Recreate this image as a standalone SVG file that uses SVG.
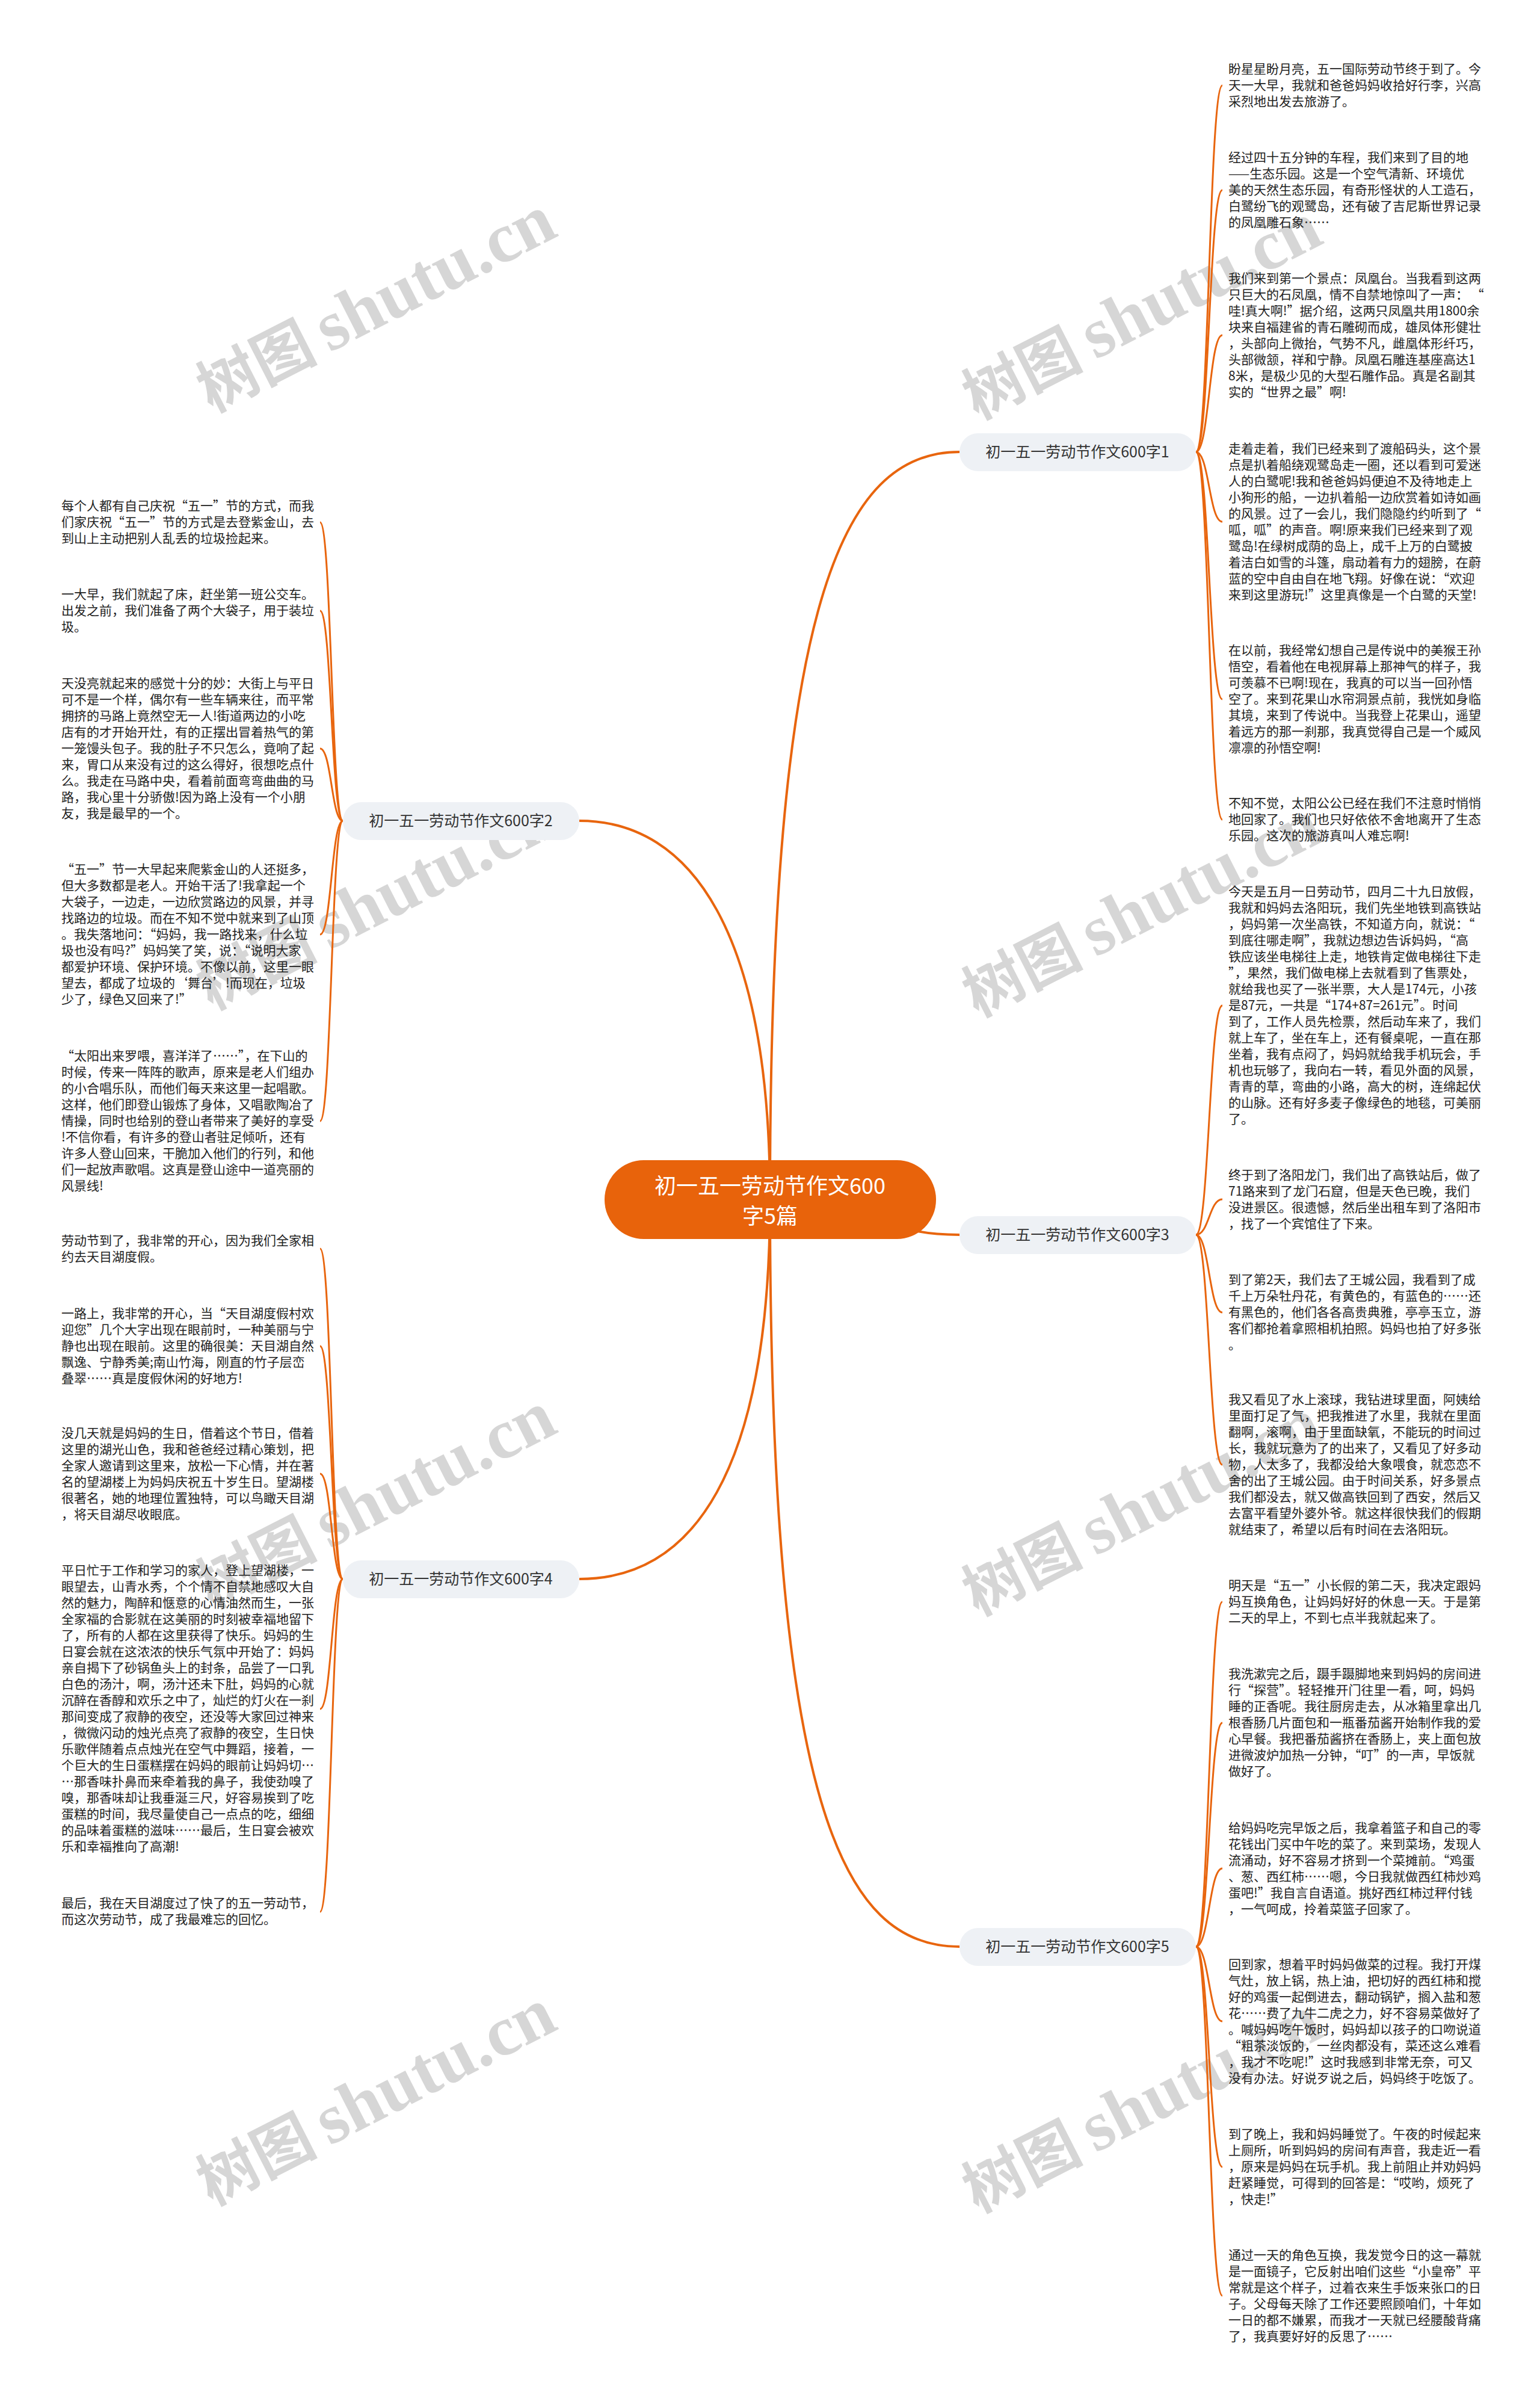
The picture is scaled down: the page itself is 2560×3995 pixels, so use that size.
<svg xmlns="http://www.w3.org/2000/svg" width="2560" height="3995" viewBox="0 0 2560 3995">
<style>
.leaf{font-family:"Noto Sans CJK SC","Liberation Sans",sans-serif;font-size:21px;fill:#222}
.conn{fill:none;stroke:#e8650e;stroke-width:3}
.main{fill:none;stroke:#e8650e;stroke-width:4}
.bbox{fill:#eef1f5}
.blabel{font-family:"Noto Sans CJK SC","Liberation Sans",sans-serif;font-size:25px;fill:#333;text-anchor:middle}
.ctext{font-family:"Noto Sans CJK SC","Liberation Sans",sans-serif;font-size:36px;fill:#fff;text-anchor:middle}
.wm1{font-family:"Noto Sans CJK SC",sans-serif;font-size:100px;font-weight:bold;fill:#d6d6d6;text-anchor:end}
.wm2{font-family:"Liberation Serif",serif;font-size:118px;font-weight:bold;fill:#d6d6d6}
</style>
<rect width="2560" height="3995" fill="#fff"/>
<g id="watermarks">
<g transform="translate(548,586) rotate(-27)"><text class="wm1" x="-20" y="0">树图</text><text class="wm2" x="0" y="0">shutu.cn</text></g>
<g transform="translate(1821,598) rotate(-27)"><text class="wm1" x="-20" y="0">树图</text><text class="wm2" x="0" y="0">shutu.cn</text></g>
<g transform="translate(548,1579) rotate(-27)"><text class="wm1" x="-20" y="0">树图</text><text class="wm2" x="0" y="0">shutu.cn</text></g>
<g transform="translate(1821,1591) rotate(-27)"><text class="wm1" x="-20" y="0">树图</text><text class="wm2" x="0" y="0">shutu.cn</text></g>
<g transform="translate(548,2574) rotate(-27)"><text class="wm1" x="-20" y="0">树图</text><text class="wm2" x="0" y="0">shutu.cn</text></g>
<g transform="translate(1821,2586) rotate(-27)"><text class="wm1" x="-20" y="0">树图</text><text class="wm2" x="0" y="0">shutu.cn</text></g>
<g transform="translate(548,3566) rotate(-27)"><text class="wm1" x="-20" y="0">树图</text><text class="wm2" x="0" y="0">shutu.cn</text></g>
<g transform="translate(1821,3578) rotate(-27)"><text class="wm1" x="-20" y="0">树图</text><text class="wm2" x="0" y="0">shutu.cn</text></g>
</g>
<g id="connectors">
<path class="main" d="M1280,1993 C1280,1000 1400,751 1595,751"/>
<path class="main" d="M1280,1993 C1280,1550 1150,1364 963,1364"/>
<path class="main" d="M1280,1993 C1450,1993 1450,2052 1595,2052"/>
<path class="main" d="M1280,1993 C1280,2450 1150,2624 963,2624"/>
<path class="main" d="M1280,1993 C1280,3000 1400,3235 1595,3235"/>
<path class="conn" d="M1988,751 C2010,751 2010,142 2032,142"/>
<path class="conn" d="M1988,751 C2010,751 2010,316 2032,316"/>
<path class="conn" d="M1988,751 C2010,751 2010,557 2032,557"/>
<path class="conn" d="M1988,751 C2010,751 2010,867 2032,867"/>
<path class="conn" d="M1988,751 C2010,751 2010,1162 2032,1162"/>
<path class="conn" d="M1988,751 C2010,751 2010,1362 2032,1362"/>
<path class="conn" d="M1988,2052 C2010,2052 2010,1671 2032,1671"/>
<path class="conn" d="M1988,2052 C2010,2052 2010,1993 2032,1993"/>
<path class="conn" d="M1988,2052 C2010,2052 2010,2181 2032,2181"/>
<path class="conn" d="M1988,2052 C2010,2052 2010,2434 2032,2434"/>
<path class="conn" d="M1988,3235 C2010,3235 2010,2662 2032,2662"/>
<path class="conn" d="M1988,3235 C2010,3235 2010,2863 2032,2863"/>
<path class="conn" d="M1988,3235 C2010,3235 2010,3105 2032,3105"/>
<path class="conn" d="M1988,3235 C2010,3235 2010,3359 2032,3359"/>
<path class="conn" d="M1988,3235 C2010,3235 2010,3601 2032,3601"/>
<path class="conn" d="M1988,3235 C2010,3235 2010,3815 2032,3815"/>
<path class="conn" d="M570,1364 C551,1364 551,868 532,868"/>
<path class="conn" d="M570,1364 C551,1364 551,1015 532,1015"/>
<path class="conn" d="M570,1364 C551,1364 551,1244 532,1244"/>
<path class="conn" d="M570,1364 C551,1364 551,1553 532,1553"/>
<path class="conn" d="M570,1364 C551,1364 551,1863 532,1863"/>
<path class="conn" d="M570,2624 C551,2624 551,2075 532,2075"/>
<path class="conn" d="M570,2624 C551,2624 551,2237 532,2237"/>
<path class="conn" d="M570,2624 C551,2624 551,2449 532,2449"/>
<path class="conn" d="M570,2624 C551,2624 551,2840 532,2840"/>
<path class="conn" d="M570,2624 C551,2624 551,3177 532,3177"/>
</g>
<g id="center">
<rect x="1005" y="1928" width="551" height="131" rx="65" fill="#e8630b"/>
<text class="ctext" x="1280" y="1984">初一五一劳动节作文600</text>
<text class="ctext" x="1280" y="2034">字5篇</text>
</g>
<g id="b1"><rect class="bbox" x="1595" y="720" width="393" height="63" rx="31"/><text class="blabel" x="1791" y="760">初一五一劳动节作文600字1</text></g>
<g id="b2"><rect class="bbox" x="570" y="1333" width="393" height="63" rx="31"/><text class="blabel" x="766" y="1373">初一五一劳动节作文600字2</text></g>
<g id="b3"><rect class="bbox" x="1595" y="2021" width="393" height="63" rx="31"/><text class="blabel" x="1791" y="2061">初一五一劳动节作文600字3</text></g>
<g id="b4"><rect class="bbox" x="570" y="2593" width="393" height="63" rx="31"/><text class="blabel" x="766" y="2633">初一五一劳动节作文600字4</text></g>
<g id="b5"><rect class="bbox" x="1595" y="3204" width="393" height="63" rx="31"/><text class="blabel" x="1791" y="3244">初一五一劳动节作文600字5</text></g>
<g id="p1"><text class="leaf" x="2042" y="122"><tspan x="2042">盼星星盼月亮，五一国际劳动节终于到了。今</tspan><tspan x="2042" dy="27">天一大早，我就和爸爸妈妈收拾好行李，兴高</tspan><tspan x="2042" dy="27">采烈地出发去旅游了。</tspan></text></g>
<g id="p2"><text class="leaf" x="2042" y="269"><tspan x="2042">经过四十五分钟的车程，我们来到了目的地</tspan><tspan x="2042" dy="27">——生态乐园。这是一个空气清新、环境优</tspan><tspan x="2042" dy="27">美的天然生态乐园，有奇形怪状的人工造石，</tspan><tspan x="2042" dy="27">白鹭纷飞的观鹭岛，还有破了吉尼斯世界记录</tspan><tspan x="2042" dy="27">的凤凰雕石象……</tspan></text></g>
<g id="p3"><text class="leaf" x="2042" y="470"><tspan x="2042">我们来到第一个景点：凤凰台。当我看到这两</tspan><tspan x="2042" dy="27">只巨大的石凤凰，情不自禁地惊叫了一声： “</tspan><tspan x="2042" dy="27">哇!真大啊!”据介绍，这两只凤凰共用1800余</tspan><tspan x="2042" dy="27">块来自福建省的青石雕砌而成，雄凤体形健壮</tspan><tspan x="2042" dy="27">，头部向上微抬，气势不凡，雌凰体形纤巧，</tspan><tspan x="2042" dy="27">头部微颔，祥和宁静。凤凰石雕连基座高达1</tspan><tspan x="2042" dy="27">8米，是极少见的大型石雕作品。真是名副其</tspan><tspan x="2042" dy="27">实的“世界之最”啊!</tspan></text></g>
<g id="p4"><text class="leaf" x="2042" y="753"><tspan x="2042">走着走着，我们已经来到了渡船码头，这个景</tspan><tspan x="2042" dy="27">点是扒着船绕观鹭岛走一圈，还以看到可爱迷</tspan><tspan x="2042" dy="27">人的白鹭呢!我和爸爸妈妈便迫不及待地走上</tspan><tspan x="2042" dy="27">小狗形的船，一边扒着船一边欣赏着如诗如画</tspan><tspan x="2042" dy="27">的风景。过了一会儿，我们隐隐约约听到了“</tspan><tspan x="2042" dy="27">呱，呱”的声音。啊!原来我们已经来到了观</tspan><tspan x="2042" dy="27">鹭岛!在绿树成荫的岛上，成千上万的白鹭披</tspan><tspan x="2042" dy="27">着洁白如雪的斗篷，扇动着有力的翅膀，在蔚</tspan><tspan x="2042" dy="27">蓝的空中自由自在地飞翔。好像在说：“欢迎</tspan><tspan x="2042" dy="27">来到这里游玩!”这里真像是一个白鹭的天堂!</tspan></text></g>
<g id="p5"><text class="leaf" x="2042" y="1088"><tspan x="2042">在以前，我经常幻想自己是传说中的美猴王孙</tspan><tspan x="2042" dy="27">悟空，看着他在电视屏幕上那神气的样子，我</tspan><tspan x="2042" dy="27">可羡慕不已啊!现在，我真的可以当一回孙悟</tspan><tspan x="2042" dy="27">空了。来到花果山水帘洞景点前，我恍如身临</tspan><tspan x="2042" dy="27">其境，来到了传说中。当我登上花果山，遥望</tspan><tspan x="2042" dy="27">着远方的那一刹那，我真觉得自己是一个威风</tspan><tspan x="2042" dy="27">凛凛的孙悟空啊!</tspan></text></g>
<g id="p6"><text class="leaf" x="2042" y="1342"><tspan x="2042">不知不觉，太阳公公已经在我们不注意时悄悄</tspan><tspan x="2042" dy="27">地回家了。我们也只好依依不舍地离开了生态</tspan><tspan x="2042" dy="27">乐园。这次的旅游真叫人难忘啊!</tspan></text></g>
<g id="p7"><text class="leaf" x="2042" y="1489"><tspan x="2042">今天是五月一日劳动节，四月二十九日放假，</tspan><tspan x="2042" dy="27">我就和妈妈去洛阳玩，我们先坐地铁到高铁站</tspan><tspan x="2042" dy="27">，妈妈第一次坐高铁，不知道方向，就说：“</tspan><tspan x="2042" dy="27">到底往哪走啊”，我就边想边告诉妈妈，“高</tspan><tspan x="2042" dy="27">铁应该坐电梯往上走，地铁肯定做电梯往下走</tspan><tspan x="2042" dy="27">”，果然，我们做电梯上去就看到了售票处，</tspan><tspan x="2042" dy="27">就给我也买了一张半票，大人是174元，小孩</tspan><tspan x="2042" dy="27">是87元，一共是“174+87=261元”。时间</tspan><tspan x="2042" dy="27">到了，工作人员先检票，然后动车来了，我们</tspan><tspan x="2042" dy="27">就上车了，坐在车上，还有餐桌呢，一直在那</tspan><tspan x="2042" dy="27">坐着，我有点闷了，妈妈就给我手机玩会，手</tspan><tspan x="2042" dy="27">机也玩够了，我向右一转，看见外面的风景，</tspan><tspan x="2042" dy="27">青青的草，弯曲的小路，高大的树，连绵起伏</tspan><tspan x="2042" dy="27">的山脉。还有好多麦子像绿色的地毯，可美丽</tspan><tspan x="2042" dy="27">了。</tspan></text></g>
<g id="p8"><text class="leaf" x="2042" y="1960"><tspan x="2042">终于到了洛阳龙门，我们出了高铁站后，做了</tspan><tspan x="2042" dy="27">71路来到了龙门石窟，但是天色已晚，我们</tspan><tspan x="2042" dy="27">没进景区。很遗憾，然后坐出租车到了洛阳市</tspan><tspan x="2042" dy="27">，找了一个宾馆住了下来。</tspan></text></g>
<g id="p9"><text class="leaf" x="2042" y="2134"><tspan x="2042">到了第2天，我们去了王城公园，我看到了成</tspan><tspan x="2042" dy="27">千上万朵牡丹花，有黄色的，有蓝色的……还</tspan><tspan x="2042" dy="27">有黑色的，他们各各高贵典雅，亭亭玉立，游</tspan><tspan x="2042" dy="27">客们都抢着拿照相机拍照。妈妈也拍了好多张</tspan><tspan x="2042" dy="27">。</tspan></text></g>
<g id="p10"><text class="leaf" x="2042" y="2333"><tspan x="2042">我又看见了水上滚球，我钻进球里面，阿姨给</tspan><tspan x="2042" dy="27">里面打足了气，把我推进了水里，我就在里面</tspan><tspan x="2042" dy="27">翻啊，滚啊，由于里面缺氧，不能玩的时间过</tspan><tspan x="2042" dy="27">长，我就玩意为了的出来了，又看见了好多动</tspan><tspan x="2042" dy="27">物，人太多了，我都没给大象喂食，就恋恋不</tspan><tspan x="2042" dy="27">舍的出了王城公园。由于时间关系，好多景点</tspan><tspan x="2042" dy="27">我们都没去，就又做高铁回到了西安，然后又</tspan><tspan x="2042" dy="27">去富平看望外婆外爷。就这样很快我们的假期</tspan><tspan x="2042" dy="27">就结束了，希望以后有时间在去洛阳玩。</tspan></text></g>
<g id="p11"><text class="leaf" x="2042" y="2642"><tspan x="2042">明天是“五一”小长假的第二天，我决定跟妈</tspan><tspan x="2042" dy="27">妈互换角色，让妈妈好好的休息一天。于是第</tspan><tspan x="2042" dy="27">二天的早上，不到七点半我就起来了。</tspan></text></g>
<g id="p12"><text class="leaf" x="2042" y="2789"><tspan x="2042">我洗漱完之后，蹑手蹑脚地来到妈妈的房间进</tspan><tspan x="2042" dy="27">行“探营”。轻轻推开门往里一看，呵，妈妈</tspan><tspan x="2042" dy="27">睡的正香呢。我往厨房走去，从冰箱里拿出几</tspan><tspan x="2042" dy="27">根香肠几片面包和一瓶番茄酱开始制作我的爱</tspan><tspan x="2042" dy="27">心早餐。我把番茄酱挤在香肠上，夹上面包放</tspan><tspan x="2042" dy="27">进微波炉加热一分钟，“叮”的一声，早饭就</tspan><tspan x="2042" dy="27">做好了。</tspan></text></g>
<g id="p13"><text class="leaf" x="2042" y="3045"><tspan x="2042">给妈妈吃完早饭之后，我拿着篮子和自己的零</tspan><tspan x="2042" dy="27">花钱出门买中午吃的菜了。来到菜场，发现人</tspan><tspan x="2042" dy="27">流涌动，好不容易才挤到一个菜摊前。“鸡蛋</tspan><tspan x="2042" dy="27">、葱、西红柿……嗯，今日我就做西红柿炒鸡</tspan><tspan x="2042" dy="27">蛋吧!”我自言自语道。挑好西红柿过秤付钱</tspan><tspan x="2042" dy="27">，一气呵成，拎着菜篮子回家了。</tspan></text></g>
<g id="p14"><text class="leaf" x="2042" y="3272"><tspan x="2042">回到家，想着平时妈妈做菜的过程。我打开煤</tspan><tspan x="2042" dy="27">气灶，放上锅，热上油，把切好的西红柿和搅</tspan><tspan x="2042" dy="27">好的鸡蛋一起倒进去，翻动锅铲，搁入盐和葱</tspan><tspan x="2042" dy="27">花……费了九牛二虎之力，好不容易菜做好了</tspan><tspan x="2042" dy="27">。喊妈妈吃午饭时，妈妈却以孩子的口吻说道</tspan><tspan x="2042" dy="27">“粗茶淡饭的，一丝肉都没有，菜还这么难看</tspan><tspan x="2042" dy="27">，我才不吃呢!”这时我感到非常无奈，可又</tspan><tspan x="2042" dy="27">没有办法。好说歹说之后，妈妈终于吃饭了。</tspan></text></g>
<g id="p15"><text class="leaf" x="2042" y="3554"><tspan x="2042">到了晚上，我和妈妈睡觉了。午夜的时候起来</tspan><tspan x="2042" dy="27">上厕所，听到妈妈的房间有声音，我走近一看</tspan><tspan x="2042" dy="27">，原来是妈妈在玩手机。我上前阻止并劝妈妈</tspan><tspan x="2042" dy="27">赶紧睡觉，可得到的回答是：“哎哟，烦死了</tspan><tspan x="2042" dy="27">，快走!”</tspan></text></g>
<g id="p16"><text class="leaf" x="2042" y="3755"><tspan x="2042">通过一天的角色互换，我发觉今日的这一幕就</tspan><tspan x="2042" dy="27">是一面镜子，它反射出咱们这些“小皇帝”平</tspan><tspan x="2042" dy="27">常就是这个样子，过着衣来生手饭来张口的日</tspan><tspan x="2042" dy="27">子。父母每天除了工作还要照顾咱们，十年如</tspan><tspan x="2042" dy="27">一日的都不嫌累，而我才一天就已经腰酸背痛</tspan><tspan x="2042" dy="27">了，我真要好好的反思了……</tspan></text></g>
<g id="l1"><text class="leaf" x="102" y="848"><tspan x="102">每个人都有自己庆祝“五一”节的方式，而我</tspan><tspan x="102" dy="27">们家庆祝“五一”节的方式是去登紫金山，去</tspan><tspan x="102" dy="27">到山上主动把别人乱丢的垃圾捡起来。</tspan></text></g>
<g id="l2"><text class="leaf" x="102" y="995"><tspan x="102">一大早，我们就起了床，赶坐第一班公交车。</tspan><tspan x="102" dy="27">出发之前，我们准备了两个大袋子，用于装垃</tspan><tspan x="102" dy="27">圾。</tspan></text></g>
<g id="l3"><text class="leaf" x="102" y="1143"><tspan x="102">天没亮就起来的感觉十分的妙：大街上与平日</tspan><tspan x="102" dy="27">可不是一个样，偶尔有一些车辆来往，而平常</tspan><tspan x="102" dy="27">拥挤的马路上竟然空无一人!街道两边的小吃</tspan><tspan x="102" dy="27">店有的才开始开灶，有的正摆出冒着热气的第</tspan><tspan x="102" dy="27">一笼馒头包子。我的肚子不只怎么，竟响了起</tspan><tspan x="102" dy="27">来，胃口从来没有过的这么得好，很想吃点什</tspan><tspan x="102" dy="27">么。我走在马路中央，看着前面弯弯曲曲的马</tspan><tspan x="102" dy="27">路，我心里十分骄傲!因为路上没有一个小朋</tspan><tspan x="102" dy="27">友，我是最早的一个。</tspan></text></g>
<g id="l4"><text class="leaf" x="102" y="1452"><tspan x="102">“五一”节一大早起来爬紫金山的人还挺多，</tspan><tspan x="102" dy="27">但大多数都是老人。开始干活了!我拿起一个</tspan><tspan x="102" dy="27">大袋子，一边走，一边欣赏路边的风景，并寻</tspan><tspan x="102" dy="27">找路边的垃圾。而在不知不觉中就来到了山顶</tspan><tspan x="102" dy="27">。我失落地问：“妈妈，我一路找来，什么垃</tspan><tspan x="102" dy="27">圾也没有吗?”妈妈笑了笑，说：“说明大家</tspan><tspan x="102" dy="27">都爱护环境、保护环境。不像以前，这里一眼</tspan><tspan x="102" dy="27">望去，都成了垃圾的‘舞台’!而现在，垃圾</tspan><tspan x="102" dy="27">少了，绿色又回来了!”</tspan></text></g>
<g id="l5"><text class="leaf" x="102" y="1762"><tspan x="102">“太阳出来罗喂，喜洋洋了……”，在下山的</tspan><tspan x="102" dy="27">时候，传来一阵阵的歌声，原来是老人们组办</tspan><tspan x="102" dy="27">的小合唱乐队，而他们每天来这里一起唱歌。</tspan><tspan x="102" dy="27">这样，他们即登山锻炼了身体，又唱歌陶冶了</tspan><tspan x="102" dy="27">情操，同时也给别的登山者带来了美好的享受</tspan><tspan x="102" dy="27">!不信你看，有许多的登山者驻足倾听，还有</tspan><tspan x="102" dy="27">许多人登山回来，干脆加入他们的行列，和他</tspan><tspan x="102" dy="27">们一起放声歌唱。这真是登山途中一道亮丽的</tspan><tspan x="102" dy="27">风景线!</tspan></text></g>
<g id="l6"><text class="leaf" x="102" y="2069"><tspan x="102">劳动节到了，我非常的开心，因为我们全家相</tspan><tspan x="102" dy="27">约去天目湖度假。</tspan></text></g>
<g id="l7"><text class="leaf" x="102" y="2190"><tspan x="102">一路上，我非常的开心，当“天目湖度假村欢</tspan><tspan x="102" dy="27">迎您”几个大字出现在眼前时，一种美丽与宁</tspan><tspan x="102" dy="27">静也出现在眼前。这里的确很美：天目湖自然</tspan><tspan x="102" dy="27">飘逸、宁静秀美;南山竹海，刚直的竹子层峦</tspan><tspan x="102" dy="27">叠翠……真是度假休闲的好地方!</tspan></text></g>
<g id="l8"><text class="leaf" x="102" y="2389"><tspan x="102">没几天就是妈妈的生日，借着这个节日，借着</tspan><tspan x="102" dy="27">这里的湖光山色，我和爸爸经过精心策划，把</tspan><tspan x="102" dy="27">全家人邀请到这里来，放松一下心情，并在著</tspan><tspan x="102" dy="27">名的望湖楼上为妈妈庆祝五十岁生日。望湖楼</tspan><tspan x="102" dy="27">很著名，她的地理位置独特，可以鸟瞰天目湖</tspan><tspan x="102" dy="27">，将天目湖尽收眼底。</tspan></text></g>
<g id="l9"><text class="leaf" x="102" y="2617"><tspan x="102">平日忙于工作和学习的家人，登上望湖楼，一</tspan><tspan x="102" dy="27">眼望去，山青水秀，个个情不自禁地感叹大自</tspan><tspan x="102" dy="27">然的魅力，陶醉和惬意的心情油然而生，一张</tspan><tspan x="102" dy="27">全家福的合影就在这美丽的时刻被幸福地留下</tspan><tspan x="102" dy="27">了，所有的人都在这里获得了快乐。妈妈的生</tspan><tspan x="102" dy="27">日宴会就在这浓浓的快乐气氛中开始了：妈妈</tspan><tspan x="102" dy="27">亲自揭下了砂锅鱼头上的封条，品尝了一口乳</tspan><tspan x="102" dy="27">白色的汤汁，啊，汤汁还未下肚，妈妈的心就</tspan><tspan x="102" dy="27">沉醉在香醇和欢乐之中了，灿烂的灯火在一刹</tspan><tspan x="102" dy="27">那间变成了寂静的夜空，还没等大家回过神来</tspan><tspan x="102" dy="27">，微微闪动的烛光点亮了寂静的夜空，生日快</tspan><tspan x="102" dy="27">乐歌伴随着点点烛光在空气中舞蹈，接着，一</tspan><tspan x="102" dy="27">个巨大的生日蛋糕摆在妈妈的眼前让妈妈切…</tspan><tspan x="102" dy="27">…那香味扑鼻而来牵着我的鼻子，我使劲嗅了</tspan><tspan x="102" dy="27">嗅，那香味却让我垂涎三尺，好容易挨到了吃</tspan><tspan x="102" dy="27">蛋糕的时间，我尽量使自己一点点的吃，细细</tspan><tspan x="102" dy="27">的品味着蛋糕的滋味……最后，生日宴会被欢</tspan><tspan x="102" dy="27">乐和幸福推向了高潮!</tspan></text></g>
<g id="l10"><text class="leaf" x="102" y="3170"><tspan x="102">最后，我在天目湖度过了快了的五一劳动节，</tspan><tspan x="102" dy="27">而这次劳动节，成了我最难忘的回忆。</tspan></text></g>
</svg>
